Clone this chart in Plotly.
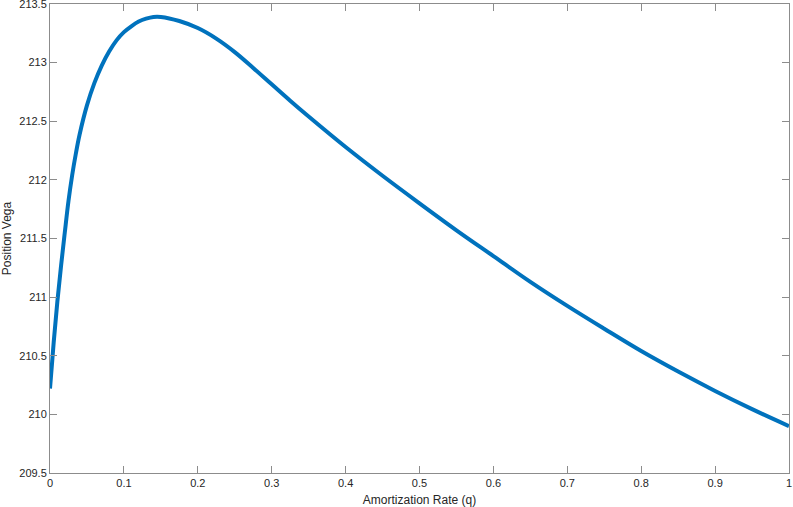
import plotly.graph_objects as go

# amortization rate q and position vega
q = [0.0, 0.005, 0.01, 0.015, 0.02, 0.025, 0.03, 0.035, 0.04, 0.05, 0.06,
     0.07, 0.08, 0.09, 0.10, 0.11, 0.12, 0.13, 0.14, 0.15, 0.175, 0.20,
     0.225, 0.25, 0.275, 0.30, 0.325, 0.35, 0.40, 0.45, 0.50, 0.55, 0.60,
     0.65, 0.70, 0.75, 0.80, 0.85, 0.90, 0.95, 1.00]
vega = [210.22, 210.615, 210.965, 211.27, 211.55, 211.82, 212.04, 212.225,
        212.385, 212.635, 212.825, 212.975, 213.095, 213.19, 213.26, 213.31,
        213.35, 213.375, 213.39, 213.39, 213.355, 213.295, 213.205, 213.09,
        212.955, 212.815, 212.675, 212.54, 212.28, 212.035, 211.80, 211.57,
        211.35, 211.13, 210.925, 210.73, 210.54, 210.365, 210.20, 210.045,
        209.90]

x_ticks = [i / 10 for i in range(11)]
y_ticks = [209.5 + 0.5 * i for i in range(9)]

axis_col = "#8c8c8c"
text_col = "#262626"

fig = go.Figure(go.Scatter(
    x=q, y=vega, mode="lines",
    line=dict(color="#0072BD", width=4, shape="spline", smoothing=1),
    showlegend=False,
))

common = dict(
    showgrid=False, zeroline=False, automargin=False,
    showline=True, linecolor=axis_col, linewidth=1, mirror="ticks",
    ticks="inside", ticklen=7, tickcolor=axis_col, tickwidth=1,
    ticklabeloverflow="allow",
    tickfont=dict(family="Liberation Sans, Arial", size=11, color=text_col),
)

fig.update_layout(
    width=793, height=507,
    margin=dict(l=50, r=4, t=4, b=34),
    paper_bgcolor="white", plot_bgcolor="white",
    font=dict(family="Liberation Sans, Arial", size=11, color=text_col),
    xaxis=dict(range=[0, 1], tickvals=x_ticks,
               title=dict(text="Amortization Rate (q)", standoff=7,
                          font=dict(size=12)),
               **common),
    yaxis=dict(range=[209.5, 213.5], tickvals=y_ticks,
               title=dict(text="Position Vega", standoff=5,
                          font=dict(size=12)),
               **common),
)

# page body has an 8px default margin; drop it so the figure fills the window
fig.write_html("out.html", config={"displayModeBar": False},
               post_script="document.body.style.margin='0px';")
